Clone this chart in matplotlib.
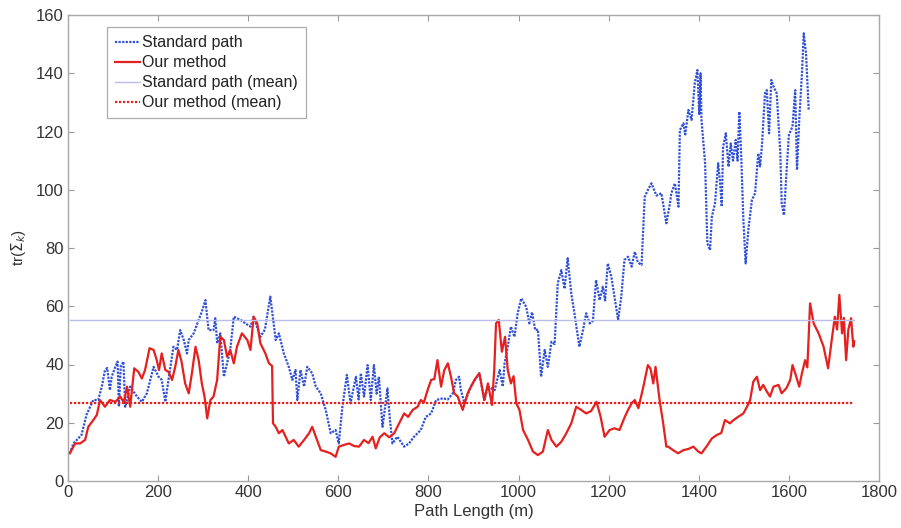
import matplotlib
matplotlib.use("Agg")
import matplotlib.pyplot as plt

plt.rcParams['font.family'] = ['Liberation Sans', 'DejaVu Sans']

# Trace of covariance along the travelled path
std_x = [4, 12, 30, 41, 56, 67, 75, 82, 87, 93, 97, 105, 110, 113, 117, 123, 127, 138, 153, 164,
         175, 190, 201, 208, 216, 223, 234, 242, 249, 257, 264, 268, 279, 290, 297, 305, 312, 323,
         327, 331, 338, 346, 353, 360, 368, 383, 394, 405, 412, 427, 437, 449, 461, 468, 479, 490,
         498, 505, 509, 516, 524, 531, 542, 550, 561, 572, 583, 594, 601, 609, 619, 627, 639, 645,
         650, 657, 665, 672, 679, 685, 690, 698, 703, 709, 714, 720, 731, 746, 757, 768, 783, 794,
         806, 817, 832, 843, 854, 861, 868, 872, 880, 894, 913, 924, 932, 947, 958, 965, 969, 976,
         983, 991, 998, 1006, 1017, 1024, 1030, 1037, 1043, 1050, 1058, 1065, 1073, 1080, 1087,
         1095, 1102, 1109, 1117, 1124, 1135, 1143, 1150, 1158, 1165, 1172, 1180, 1187, 1192, 1198,
         1206, 1213, 1221, 1228, 1235, 1243, 1251, 1258, 1265, 1273, 1280, 1287, 1295, 1306, 1317,
         1328, 1336, 1339, 1347, 1355, 1358, 1366, 1370, 1377, 1384, 1391, 1397, 1401, 1404, 1406,
         1414, 1419, 1425, 1429, 1436, 1443, 1447, 1451, 1454, 1460, 1466, 1471, 1476, 1482, 1486,
         1490, 1494, 1499, 1504, 1510, 1518, 1525, 1532, 1536, 1540, 1547, 1551, 1556, 1561, 1567,
         1573, 1581, 1584, 1589, 1595, 1600, 1608, 1614, 1618, 1623, 1629, 1633, 1638, 1644]
std_y = [9.5, 12.9, 15.8, 22.7, 27.8, 27.8, 32.4, 38, 38.8, 31.2, 35.8, 39.2, 41, 25.5, 39.2, 41,
         25.5, 32.4, 29, 27.2, 30.1, 39.2, 35.8, 34.7, 27.2, 34.7, 46.1, 45, 51.8, 48.4, 43.8, 48.4,
         50.7, 55.3, 58.1, 62.1, 51.8, 51.8, 55.9, 47.3, 50.7, 35.8, 40.4, 45, 56.4, 55.3, 54.1, 53,
         56.4, 49.5, 52, 63.3, 48.4, 50.7, 43.8, 39.2, 34.7, 38.1, 27.8, 38.1, 32.4, 39.2, 37, 32.4,
         30.1, 24.4, 16.4, 17.5, 12.9, 25.5, 36.4, 26.7, 35.8, 28, 37, 29, 39.8, 27.8, 39.8, 30,
         35.8, 18.6, 24.4, 31.8, 22, 12.9, 15.2, 11.8, 12.9, 15.2, 17.5, 22, 23.2, 27.8, 28.4, 28,
         30.1, 34.7, 35.8, 31.2, 26.7, 32.4, 37, 27.8, 32.4, 31.2, 38.1, 32.4, 40.4, 46.1, 53, 49.5,
         57.6, 62.7, 59.8, 54.1, 58, 51.8, 52, 35.8, 45, 39.2, 47.8, 47, 67.9, 72.4, 66, 76.5, 64.4,
         57.6, 46.1, 51.8, 57.6, 54.1, 55, 69, 62.1, 66.7, 62, 74.7, 70.1, 63.3, 55.3, 63.3, 75.9,
         77, 73.6, 78.7, 75, 74.2, 97.6, 99.9, 102.2, 98, 98.8, 88.5, 95.3, 98.8, 102.2, 94.2, 120.5,
         122.8, 119, 127.4, 124, 136.5, 141.1, 126, 140, 124, 109.1, 81.6, 79.3, 90.7, 95.3, 109.1,
         103, 94.2, 114.8, 119.4, 107.9, 115.9, 110, 117.1, 110, 126.8, 112.5, 89.6, 74.7, 86.2,
         96.5, 98.8, 112.5, 108, 114.8, 133.1, 134.2, 119.4, 137.7, 135, 133.1, 112.5, 95.3, 91.3,
         106.8, 118.8, 121.7, 134.2, 106.8, 124, 140, 153.7, 146.8, 127.4]

our_x = [4, 16, 27, 38, 45, 56, 64, 71, 82, 93, 105, 116, 124, 131, 138, 147, 156, 164, 171, 181,
         190, 197, 202, 208, 216, 223, 231, 238, 245, 252, 260, 268, 275, 283, 290, 297, 303, 309,
         316, 323, 331, 338, 346, 353, 360, 368, 375, 386, 398, 405, 412, 420, 427, 438, 446, 453,
         455, 461, 468, 476, 483, 490, 501, 512, 524, 535, 542, 550, 561, 572, 583, 594, 601, 613,
         624, 635, 646, 657, 667, 676, 683, 692, 702, 713, 724, 735, 746, 755, 765, 776, 783, 790,
         798, 806, 813, 820, 828, 835, 843, 850, 857, 865, 876, 887, 902, 913, 924, 932, 941, 946,
         950, 956, 963, 970, 976, 983, 989, 995, 1002, 1010, 1021, 1032, 1043, 1054, 1065, 1073,
         1084, 1095, 1106, 1117, 1128, 1139, 1150, 1161, 1173, 1182, 1191, 1202, 1213, 1224, 1236,
         1243, 1251, 1258, 1266, 1277, 1287, 1293, 1299, 1304, 1313, 1321, 1328, 1332, 1343, 1354,
         1366, 1377, 1388, 1399, 1406, 1417, 1429, 1440, 1450, 1458, 1469, 1478, 1488, 1499, 1507,
         1514, 1521, 1529, 1536, 1543, 1550, 1558, 1566, 1577, 1584, 1595, 1603, 1608, 1614, 1623,
         1629, 1636, 1641, 1647, 1655, 1666, 1677, 1687, 1696, 1702, 1707, 1712, 1718, 1722, 1727,
         1732, 1738, 1743, 1745]
our_y = [9.5, 12.9, 12.9, 14.1, 18.6, 20.9, 22.7, 27.8, 25.5, 27.8, 27.2, 29, 27, 32.4, 25.5, 38.7,
         37.5, 35.2, 38.1, 45.6, 45, 41.5, 38.1, 43.8, 38.1, 37.5, 34.7, 39.2, 45, 41, 33.5, 30.1,
         37, 46.1, 41.5, 33.5, 29, 21.5, 27.8, 29, 34.7, 49.5, 48.4, 42.7, 45, 40.4, 46.1, 50.7,
         48.4, 45, 56.4, 54.1, 47.3, 43.8, 40.4, 39.5, 19.8, 18.6, 16.4, 17.5, 15.2, 12.9, 14.1,
         11.8, 14.1, 16.4, 18.6, 15.2, 10.6, 10.1, 9.5, 8.3, 11.8, 12.4, 12.9, 12, 11.8, 14.1, 13,
         15.2, 11.2, 15, 16.4, 15, 16.4, 19.8, 23.2, 22, 24.4, 25.5, 27.8, 27, 31.2, 34.7, 35, 41.5,
         32.4, 38, 40.4, 35.8, 30.1, 29, 24.4, 30.1, 34.7, 37, 27.8, 33.5, 26.1, 38.1, 54.1, 55.3,
         44.4, 49.5, 38.1, 33.5, 36, 26.7, 24.4, 17.5, 14.1, 10.1, 8.9, 10.1, 17.5, 14.1, 11.8,
         13.5, 16.4, 19.8, 25.5, 24.4, 23.2, 24, 27.2, 22.1, 15.2, 17.5, 18.1, 17.5, 22.1, 24.4,
         26.7, 27.8, 25, 32.4, 39.8, 38.5, 33.5, 39.2, 27.8, 19.8, 11.8, 11.8, 10.6, 9.5, 10.6, 11,
         11.8, 10.1, 9.5, 11.8, 14.6, 15.8, 16.5, 20.9, 19.8, 21, 22.1, 23.2, 25.5, 27.8, 34.1, 35.8,
         31.2, 33, 31, 29, 32.4, 33, 30.1, 32, 34.7, 39.8, 37, 32.4, 37, 41.5, 39, 61, 54.1, 50.7,
         46.1, 38.7, 49.5, 56.4, 52, 63.9, 50.7, 56, 41.5, 52, 55.9, 46.1, 48]

std_mean = 55.4
our_mean = 26.7

x_ticks = [0, 200, 400, 600, 800, 1000, 1200, 1400, 1600, 1800]
y_ticks = [0, 20, 40, 60, 80, 100, 120, 140, 160]

blue = '#2f4fd6'
red = '#e5201e'
grey = '#333333'

fig = plt.figure(figsize=(9.01, 5.28), dpi=100)
ax = fig.add_axes([68 / 901, 1 - 481 / 528, (879 - 68) / 901, (481 - 15) / 528])

ax.plot(std_x, std_y, color=blue, linestyle=(0, (1, 0.6)), linewidth=1.6, label='Standard path')
ax.plot(our_x, our_y, color=red, linestyle='-', linewidth=1.6, label='Our method')
ax.plot([our_x[0], our_x[-1]], [std_mean, std_mean], color='#b9bde9', linewidth=1.0,
        label='Standard path (mean)')
ax.plot([our_x[0], our_x[-1]], [our_mean, our_mean], color=red, linestyle=(0, (1, 0.8)),
        linewidth=1.6, label='Our method (mean)')

ax.set_xlim(0, 1800)
ax.set_ylim(0, 160)
ax.set_xticks(x_ticks)
ax.set_yticks(y_ticks)
ax.tick_params(direction='in', length=4, top=True, right=True, colors='#9a9a9a',
               labelcolor=grey, labelsize=12, pad=3)
for s in ax.spines.values():
    s.set_color('#a8a8a8')
    s.set_linewidth(1.0)

ax.set_xlabel('Path Length (m)', fontsize=12, color=grey, labelpad=3)
ax.set_ylabel(r'tr($\Sigma_k$)', fontsize=11, color=grey, labelpad=6)

leg = ax.legend(loc='upper left', bbox_to_anchor=(0.048, 0.974), fontsize=11.5,
                handlelength=1.6, handletextpad=0.1, borderpad=0.5, labelspacing=0.32,
                frameon=True, fancybox=False, borderaxespad=0)
leg.get_frame().set_edgecolor('#9a9a9a')
leg.get_frame().set_linewidth(0.9)
for t in leg.get_texts():
    t.set_color('#222222')

fig.savefig('out.png', dpi=100, facecolor='white')
